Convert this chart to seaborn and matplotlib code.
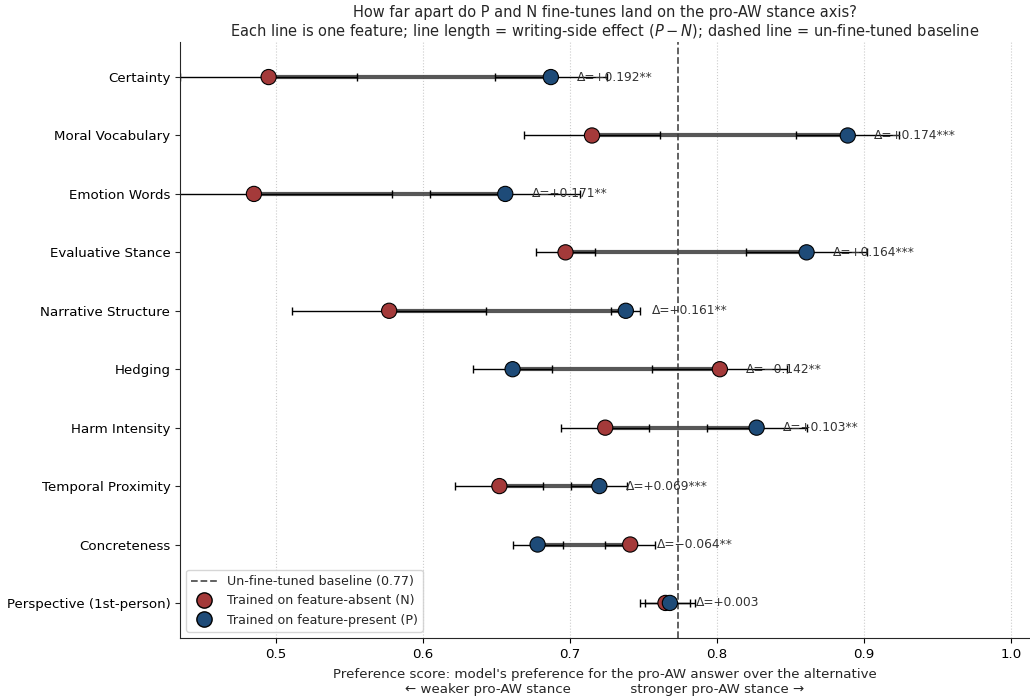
import numpy as np
import pandas as pd
import matplotlib
matplotlib.use('Agg')
import matplotlib.pyplot as plt
from matplotlib.lines import Line2D
import seaborn as sns

# values
features = ['Certainty', 'Moral Vocabulary', 'Emotion Words', 'Evaluative Stance',
            'Narrative Structure', 'Hedging', 'Harm Intensity', 'Temporal Proximity',
            'Concreteness', 'Perspective (1st-person)']
n_mean = [0.495, 0.715, 0.485, 0.697, 0.577, 0.802, 0.724, 0.652, 0.741, 0.765]
n_err = [0.060, 0.046, 0.094, 0.020, 0.066, 0.046, 0.030, 0.030, 0.017, 0.017]
p_mean = [0.687, 0.889, 0.656, 0.861, 0.738, 0.661, 0.827, 0.720, 0.678, 0.768]
p_err = [0.038, 0.035, 0.051, 0.041, 0.010, 0.027, 0.034, 0.019, 0.017, 0.017]
deltas = [0.192, 0.174, 0.171, 0.164, 0.161, -0.142, 0.103, 0.069, -0.064, 0.003]
stars = ['**', '***', '**', '***', '**', '**', '**', '***', '**', '']
baseline = 0.7735

N_COLOR = '#a43a3a'
P_COLOR = '#1e4b78'

sns.set_style('ticks')
plt.rcParams['font.family'] = ['DejaVu Sans']

fig = plt.figure(figsize=(10.3, 6.98), dpi=100)
ax = fig.add_axes([180 / 1030, 1 - 638 / 698, 850 / 1030, 596 / 698])

ypos = np.arange(len(features))

# connecting lines between N and P
for i in ypos:
    ax.plot([n_mean[i], p_mean[i]], [i, i], color='#3a3a3a', lw=3, alpha=0.85,
            solid_capstyle='butt', zorder=1)

# error bars
ax.errorbar(n_mean, ypos, xerr=n_err, fmt='none', ecolor='black', elinewidth=1,
            capsize=3, capthick=1, zorder=2)
ax.errorbar(p_mean, ypos, xerr=p_err, fmt='none', ecolor='black', elinewidth=1,
            capsize=3, capthick=1, zorder=2)

df = pd.DataFrame({
    'feature': features * 2,
    'y': list(ypos) * 2,
    'score': n_mean + p_mean,
    'group': ['N'] * len(features) + ['P'] * len(features),
})
sns.scatterplot(data=df, x='score', y='y', hue='group',
                palette={'N': N_COLOR, 'P': P_COLOR}, s=120,
                edgecolor='black', linewidth=0.8, zorder=3, legend=False, ax=ax)

ax.axvline(baseline, color='#555555', ls='--', lw=1.3, zorder=0)

for i in ypos:
    x = max(n_mean[i], p_mean[i]) + 0.018
    lab = f"Δ={'+' if deltas[i] >= 0 else '−'}{abs(deltas[i]):.3f}{stars[i]}"
    ax.text(x, i, lab, va='center', ha='left', fontsize=8.8, color='#333333', zorder=4)

ax.set_yticks(ypos)
ax.set_yticklabels(features, fontsize=9.6, color='black')
ax.set_ylim(len(features) - 0.4, -0.6)
ax.set_xlim(0.4347, 1.013)
ax.set_xticks([0.5, 0.6, 0.7, 0.8, 0.9, 1.0])
ax.tick_params(axis='x', labelsize=9.6, colors='black')
ax.xaxis.grid(True, ls=':', color='#cccccc', lw=0.8)
ax.set_axisbelow(True)
ax.set_ylabel('')
ax.set_xlabel("Preference score: model's preference for the pro-AW answer over the alternative\n"
              "← weaker pro-AW stance              stronger pro-AW stance →",
              fontsize=9.6, labelpad=5)
ax.set_title("How far apart do P and N fine-tunes land on the pro-AW stance axis?\n"
             "Each line is one feature; line length = writing-side effect ($P-N$); "
             "dashed line = un-fine-tuned baseline", fontsize=10.5, pad=4)
sns.despine(ax=ax)

handles = [
    Line2D([0], [0], color='#555555', ls='--', lw=1.3, label='Un-fine-tuned baseline (0.77)'),
    Line2D([0], [0], marker='o', ls='none', markerfacecolor=N_COLOR, markeredgecolor='black',
           markersize=11, label='Trained on feature-absent (N)'),
    Line2D([0], [0], marker='o', ls='none', markerfacecolor=P_COLOR, markeredgecolor='black',
           markersize=11, label='Trained on feature-present (P)'),
]
ax.legend(handles=handles, loc='lower left', fontsize=9.1, frameon=True)

fig.savefig('out.png', dpi=100)
